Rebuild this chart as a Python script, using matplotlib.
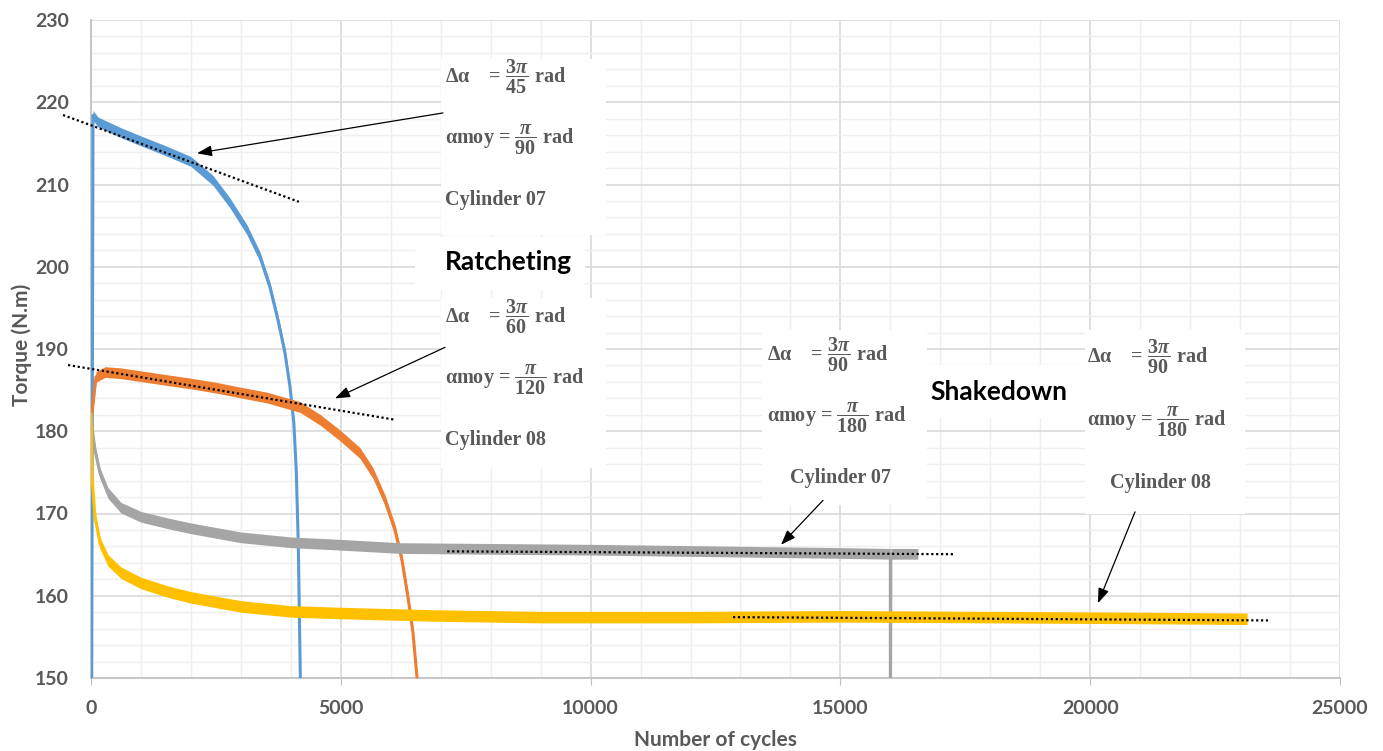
import numpy as np
import matplotlib.pyplot as plt
from matplotlib.patches import Rectangle
from matplotlib.ticker import MultipleLocator

# torque vs cycles
blue_x = [10, 40, 140, 600, 1000, 1500, 2000, 2442, 2782, 3122, 3383, 3583, 3743, 3883, 3983, 4060, 4110, 4150, 4190, 4210]
blue_y = [140, 218.4, 217.6, 216.3, 215.3, 214.1, 212.8, 210.5, 207.75, 204.5, 201.2, 197.5, 193.5, 189.5, 185.4, 181.0, 175.0, 166.0, 150.0, 145.0]

orange_x = [0, 20, 100, 280, 600, 1540, 2000, 2500, 3000, 3520, 4183, 4584, 4984, 5384, 5645, 5885, 6085, 6225, 6345, 6445, 6525, 6560]
orange_y = [182.2, 182.2, 186.6, 187.2, 187.05, 186.2, 185.8, 185.3, 184.7, 184.1, 182.95, 181.4, 179.5, 177.35, 174.9, 171.6, 168.0, 164.3, 159.8, 155.5, 150.1, 147.0]

gray_x = [0, 20, 80, 180, 340, 600, 1000, 1540, 2000, 3000, 4000, 5000, 6180, 8000, 10000, 12500, 15000, 15990, 16000, 16000, 16010, 16550]
gray_y = [182.2, 180.5, 177.7, 174.9, 172.5, 170.7, 169.6, 168.8, 168.2, 167.1, 166.5, 166.2, 165.8, 165.7, 165.6, 165.4, 165.2, 165.1, 165.1, 140.0, 165.1, 165.1]

yellow_x = [0, 20, 80, 180, 340, 600, 1000, 1540, 2000, 3000, 4000, 5000, 6850, 9000, 12000, 15000, 18000, 21000, 23140]
yellow_y = [182.2, 174.5, 169.6, 166.4, 164.3, 162.8, 161.55, 160.5, 159.8, 158.7, 158.1, 157.9, 157.6, 157.4, 157.4, 157.5, 157.4, 157.3, 157.2]

# half height of the noise band of each curve (N.m)
noise = [0.6, 0.65, 0.65, 0.7]

# dotted trend lines
trend_x = [[-560, 4160], [-460, 6085], [7130, 17300], [12850, 23560]]
trend_y = [[218.45, 207.9], [188.05, 181.4], [165.4, 165.05], [157.4, 157.0]]

colors = ['#5b9bd5', '#ed7d31', '#a5a5a5', '#ffc000']
grey_txt = '#595959'

plt.rcParams['mathtext.fontset'] = 'custom'
plt.rcParams['mathtext.rm'] = 'Liberation Serif:bold'
plt.rcParams['mathtext.it'] = 'Liberation Serif:italic:bold'
plt.rcParams['mathtext.bf'] = 'Liberation Serif:bold'

fig = plt.figure(figsize=(13.83, 7.51), dpi=100)
ax = fig.add_axes([91 / 1383, 1 - 678 / 751, 1249 / 1383, 658 / 751])

series = [(blue_x, blue_y), (orange_x, orange_y), (gray_x, gray_y), (yellow_x, yellow_y)]
for (xs, ys), c, n in zip(series, colors, noise):
    xs = np.array(xs, dtype=float)
    ys = np.array(ys, dtype=float)
    ax.fill_between(xs, ys - n, ys + n, color=c, lw=0, zorder=3)
    ax.plot(xs, ys, color=c, lw=2.2, zorder=3, solid_capstyle='butt')

for tx, ty in zip(trend_x, trend_y):
    ax.plot(tx, ty, color='black', lw=1.6, ls=(0, (1, 1.2)), zorder=4, clip_on=False)

ax.set_xlim(0, 25000)
ax.set_ylim(150, 230)
ax.xaxis.set_major_locator(MultipleLocator(5000))
ax.xaxis.set_minor_locator(MultipleLocator(1000))
ax.yaxis.set_major_locator(MultipleLocator(10))
ax.yaxis.set_minor_locator(MultipleLocator(2))
ax.set_axisbelow(True)
ax.grid(which='major', color='#d9d9d9', lw=1.2)
ax.grid(which='minor', color='#efefef', lw=1.0)
for s in ['top', 'right']:
    ax.spines[s].set_visible(False)
for s in ['left', 'bottom']:
    ax.spines[s].set_color('#bfbfbf')
    ax.spines[s].set_linewidth(1.2)
ax.tick_params(axis='x', which='major', length=5, color='#bfbfbf', pad=11)
ax.tick_params(axis='y', which='major', length=0, pad=16)
ax.tick_params(which='minor', length=0)
for lab in ax.get_xticklabels() + ax.get_yticklabels():
    lab.set_fontfamily('Lato')
    lab.set_fontweight('bold')
    lab.set_fontsize(14)
    lab.set_color(grey_txt)

fig.text(715 / 1383, 1 - 740 / 751, 'Number of cycles', ha='center', va='center',
         family='Lato', weight='bold', fontsize=15, color=grey_txt)
fig.text(22 / 1383, 1 - 345 / 751, 'Torque (N.m)', ha='center', va='center', rotation=90,
         family='Lato', weight='bold', fontsize=15, color=grey_txt)

# white boxes behind the annotations
boxes = [(7000, 203.8, 3300, 21.4), (6480, 197.2, 3400, 6.4), (7000, 175.5, 3300, 20.7),
         (13430, 171.0, 3300, 21.3), (16600, 181.6, 4200, 6.5), (19900, 170.0, 3200, 22.3)]
for bx, by, bw, bh in boxes:
    ax.add_patch(Rectangle((bx, by), bw, bh, facecolor='white', edgecolor='none', zorder=1))

serif = dict(family=['Liberation Serif', 'DejaVu Serif'], weight='bold', fontsize=14.5,
             color=grey_txt, ha='left', va='center', zorder=5)
notes = [
    (7086, 223.1, r'Δα    = $\dfrac{3\pi}{45}$ rad'),
    (7086, 215.4, r'αmoy = $\dfrac{\pi}{90}$ rad'),
    (7086, 208.1, 'Cylinder 07'),
    (7086, 193.9, r'Δα    = $\dfrac{3\pi}{60}$ rad'),
    (7086, 186.2, r'αmoy = $\dfrac{\pi}{120}$ rad'),
    (7086, 178.9, 'Cylinder 08'),
    (13531, 189.3, r'Δα    = $\dfrac{3\pi}{90}$ rad'),
    (13531, 181.6, r'αmoy = $\dfrac{\pi}{180}$ rad'),
    (13991, 174.3, 'Cylinder 07'),
    (19936, 189.1, r'Δα    = $\dfrac{3\pi}{90}$ rad'),
    (19936, 181.2, r'αmoy = $\dfrac{\pi}{180}$ rad'),
    (20396, 173.7, 'Cylinder 08'),
]
for nx, ny, s in notes:
    ax.text(nx, ny, s, **serif)

ax.text(7086, 200.6, 'Ratcheting', family='Lato', weight='bold', fontsize=19,
        color='black', ha='left', va='center', zorder=5)
ax.text(16793, 184.8, 'Shakedown', family='Lato', weight='bold', fontsize=19,
        color='black', ha='left', va='center', zorder=5)

arrows = [((7045, 218.7), (2122, 213.8)), ((7086, 190.2), (4884, 184.0)),
          ((14652, 171.6), (13811, 166.2)), ((20897, 170.2), (20156, 159.1))]
for start, end in arrows:
    ax.annotate('', xy=end, xytext=start, zorder=6,
                arrowprops=dict(arrowstyle='-|>,head_length=0.6,head_width=0.22',
                                color='black', lw=0.9, mutation_scale=15, shrinkA=0, shrinkB=0))

fig.savefig('out.png', dpi=100)
